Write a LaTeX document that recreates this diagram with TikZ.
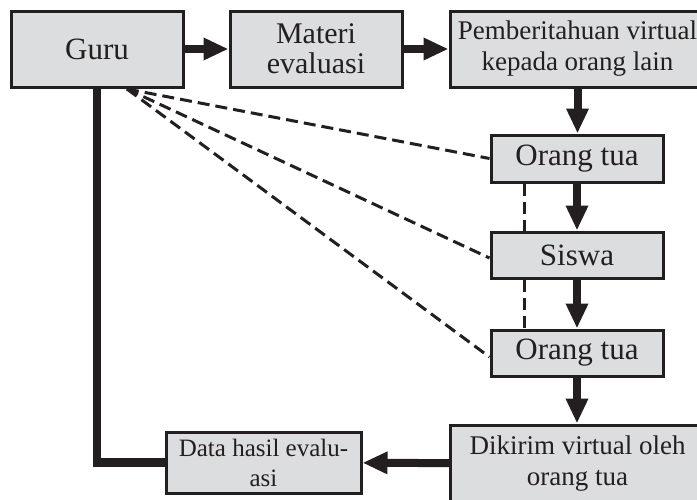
\documentclass[tikz,border=0pt]{standalone}
\usepackage{fontspec}
\setmainfont{Liberation Serif}
\usetikzlibrary{arrows.meta}
\definecolor{ink}{HTML}{231F20}
\definecolor{boxfill}{HTML}{DCDDDE}
\begin{document}
\begin{tikzpicture}[x=0.5pt,y=-0.5pt,
  box/.style={draw=ink, fill=boxfill, line width=1.5pt, inner sep=0pt, align=center, text=ink},
  arr/.style={draw=ink, line width=4pt, -{Triangle[length=12.5pt,width=10.5pt]}},
  thickline/.style={draw=ink, line width=4.25pt},
  dl/.style={draw=ink, line width=1.5pt, dash pattern=on 6pt off 3pt}]
\useasboundingbox (0,0) rectangle (697,499);
\clip (0,0) rectangle (697,499);
\node[box, minimum width=86pt, minimum height=38pt, font=\fontsize{15.5}{15}\selectfont] (guru) at (97,49) {Guru};
\node[box, minimum width=86pt, minimum height=38pt, font=\fontsize{15}{15}\selectfont] (materi) at (316,49) {Materi\\evaluasi};
\node[box, minimum width=127.5pt, minimum height=38pt, font=\fontsize{13.5}{15.5}\selectfont] (pemb) at (577.5,49) {Pemberitahuan virtual\\kepada orang lain};
\node[box, minimum width=86pt, minimum height=23.5pt, font=\fontsize{15.5}{15}\selectfont] (ot1) at (577,158.5) {Orang tua};
\node[box, minimum width=86pt, minimum height=23pt, font=\fontsize{15.5}{15}\selectfont] (siswa) at (577,255) {Siswa};
\node[box, minimum width=86pt, minimum height=23pt, font=\fontsize{15.5}{15}\selectfont] (ot2) at (577,353) {Orang tua};
\node[box, minimum width=127pt, minimum height=38.5pt, font=\fontsize{13.5}{15.5}\selectfont] (dik) at (577.5,463.5) {Dikirim virtual oleh\\orang tua};
\node[box, minimum width=97.5pt, minimum height=30.5pt, font=\fontsize{12.5}{15}\selectfont] (data) at (263.5,462.5) {Data hasil evalu-\\asi};
\coordinate (gd) at (127,89);
\draw[arr] (guru) -- (materi);
\draw[arr] (materi) -- (pemb);
\draw[arr] (pemb.south) -- (pemb.south |- ot1.north);
\draw[arr] (ot1) -- (siswa);
\draw[arr] (siswa) -- (ot2);
\draw[arr] (ot2.south) -- (ot2.south |- dik.north);
\draw[arr] (dik) -- (data);
\draw[thickline] (guru.south) |- (data.west);
\draw[dl] (gd) -- (ot1.west);
\draw[dl] (gd) -- ([yshift=-1.5pt]siswa.west);
\draw[dl] (gd) -- ([yshift=-2pt]ot2.west);
\draw[dl] ([xshift=17.5pt]ot1.south west) -- ([xshift=17.5pt]siswa.north west);
\draw[dl] ([xshift=17.5pt]siswa.south west) -- ([xshift=17.5pt]ot2.north west);
\end{tikzpicture}
\end{document}
